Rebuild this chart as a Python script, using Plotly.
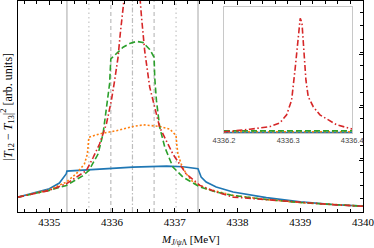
import plotly.graph_objects as go

# ---------------- data ----------------
blue_x = [4334.5, 4334.74, 4335.0, 4335.16, 4335.24, 4335.27, 4335.28, 4335.8, 4336.33, 4336.87,
          4337.13, 4337.37, 4337.385, 4337.42, 4337.5, 4337.66, 4337.93, 4338.46, 4339.0, 4339.52, 4340.0]
blue_y = [0.28, 0.357, 0.438, 0.545, 0.657, 0.72, 0.77, 0.813, 0.844, 0.863,
          0.851, 0.813, 0.751, 0.657, 0.563, 0.47, 0.376, 0.27, 0.19, 0.14, 0.11]

orange_x = [4334.5, 4335.0, 4335.27, 4335.43, 4335.56, 4335.606, 4335.63, 4335.8, 4336.07, 4336.34,
            4336.5, 4336.76, 4336.92, 4337.02, 4337.03, 4337.05, 4337.1, 4337.18, 4337.29, 4337.5,
            4337.93, 4338.46, 4339.0, 4339.52, 4340.0]
orange_y = [0.28, 0.419, 0.563, 0.72, 0.907, 1.09, 1.407, 1.47, 1.53, 1.61,
            1.64, 1.61, 1.56, 1.44, 1.28, 1.09, 0.907, 0.72, 0.563, 0.438,
            0.313, 0.235, 0.178, 0.14, 0.11]

green_x = [4334.5, 4335.0, 4335.27, 4335.53, 4335.63, 4335.776, 4335.856, 4335.91, 4335.96, 4335.98,
           4336.08, 4336.175, 4336.28, 4336.39, 4336.49, 4336.6, 4336.67, 4336.68, 4336.707, 4336.76,
           4336.84, 4336.97, 4337.13, 4337.4, 4337.66, 4337.93, 4338.46, 4339.0, 4339.52, 4340.0]
green_y = [0.28, 0.407, 0.50, 0.68, 0.78, 1.09, 1.47, 1.91, 2.41, 2.88,
           3.00, 3.10, 3.17, 3.21, 3.19, 3.06, 2.91, 2.53, 2.10, 1.59,
           1.22, 0.845, 0.657, 0.47, 0.376, 0.31, 0.235, 0.178, 0.14, 0.11]

red_x = [4334.5, 4335.0, 4335.27, 4335.59, 4335.70, 4335.80, 4335.91, 4335.989, 4336.04, 4336.095,
         4336.13, 4336.175, 4336.2, 4336.25, 4336.32, 4336.4, 4336.44, 4336.47, 4336.52, 4336.60,
         4336.76, 4336.97, 4337.18, 4337.40, 4337.66, 4337.93, 4338.46, 4339.0, 4339.52, 4340.0]
red_y = [0.28, 0.407, 0.53, 0.78, 1.03, 1.28, 1.66, 2.10, 2.47, 2.91,
         3.35, 3.78, 4.1, 6.0, 12.0, 6.0, 4.1, 3.66, 3.03, 2.35,
         1.59, 1.09, 0.72, 0.50, 0.376, 0.28, 0.23, 0.175, 0.138, 0.107]

# inset (zoom around the peak), own arbitrary units
inset_red_x = [4336.2, 4336.2198, 4336.2405, 4336.2717, 4336.2873, 4336.2977, 4336.3055, 4336.3107,
               4336.3154, 4336.3189, 4336.3216, 4336.3247, 4336.3278, 4336.3314, 4336.3392, 4336.3496,
               4336.3757, 4336.4]
inset_red_y = [0.55, 1.34, 2.5, 4.7, 7.7, 14, 25.8, 49.5, 77, 91, 87.4, 65.3, 41.6, 28.4, 20.5, 14, 6.1, 2.7]
inset_x_ends = [4336.2, 4336.4]
inset_blue_y = [0.0, 0.0]
inset_orange_y = [0.6, 0.6]
inset_green_y = [1.3, 1.3]

solid_lines = [4335.28, 4337.37]
dotted_lines = [4335.63, 4337.02]
dashed_lines = [4335.98, 4336.67]
center_line = [4336.325]
inset_center = [4336.3236]

inset_ticks = [4336.2, 4336.3, 4336.4]
inset_tick_text = ["4336.2", "4336.3", "4336.4"]
main_ticks = [4335, 4336, 4337, 4338, 4339, 4340]
main_tick_text = ["4335", "4336", "4337", "4338", "4339", "4340"]

BLUE, ORANGE, GREEN, RED = "#1f77b4", "#ff7f0e", "#2ca02c", "#d62728"
SERIF = "Liberation Serif, DejaVu Serif, serif"
DOT, DASH, DASHDOT = "2px,2px", "6px,3px", "6px,2.5px,1.5px,2.5px"

fig = go.Figure()

def line(x, y, color, dash, xa="x", ya="y", w=1.6):
    fig.add_trace(go.Scatter(x=x, y=y, mode="lines", xaxis=xa, yaxis=ya,
                             line=dict(color=color, dash=dash, width=w),
                             showlegend=False, hoverinfo="skip"))

line(blue_x, blue_y, BLUE, "solid")
line(orange_x, orange_y, ORANGE, DOT)
line(green_x, green_y, GREEN, DASH)
line(red_x, red_y, RED, DASHDOT)

line(inset_x_ends, inset_blue_y, BLUE, "solid", "x2", "y2")
line(inset_x_ends, inset_orange_y, ORANGE, DOT, "x2", "y2")
line(inset_x_ends, inset_green_y, GREEN, DASH, "x2", "y2")
line(inset_red_x, inset_red_y, RED, DASHDOT, "x2", "y2")

shapes = []
def vline(v, dash, color="#c4c4c4", width=1.2, xref="x"):
    shapes.append(dict(type="line", xref=xref, yref=("y2 domain" if xref == "x2" else "y domain"),
                       x0=v, x1=v, y0=0, y1=1,
                       line=dict(color=color, width=width, dash=dash), layer="below"))

for v in solid_lines:
    vline(v, "solid", "#c8c8c8", 1.6)
for v in dotted_lines:
    vline(v, "1.5px,3px", "#c4c4c4", 1.2)
for v in dashed_lines:
    vline(v, "4px,3px", "#bdbdbd", 1.2)
for v in center_line:
    vline(v, "5px,2px,1.5px,2px", "#bdbdbd", 1.2)
for v in inset_center:
    vline(v, "2px,2px", "#c8c8c8", 1.3, xref="x2")

fig.update_layout(
    width=374, height=248,
    margin=dict(l=18, r=11, t=1, b=36),
    paper_bgcolor="white", plot_bgcolor="white",
    shapes=shapes,
    xaxis=dict(range=[4334.5, 4340.0005], domain=[0, 1], tickvals=main_ticks, ticktext=main_tick_text,
               ticks="inside", ticklen=4, tickcolor="black", tickwidth=1,
               ticklabeloverflow="allow",
               minor=dict(dtick=0.2, ticks="inside", ticklen=2.5, tickcolor="black"),
               showline=True, linecolor="black", linewidth=1.2, mirror="ticks",
               showgrid=False, zeroline=False,
               tickfont=dict(family=SERIF, size=11, color="black")),
    yaxis=dict(range=[0, 3.97], domain=[0, 1], side="right", tick0=-0.04, dtick=1,
               ticks="inside", ticklen=4, tickcolor="black", showticklabels=False,
               minor=dict(dtick=0.25, ticks="inside", ticklen=2.5, tickcolor="black"),
               showline=True, linecolor="black", linewidth=1.2, mirror=True,
               showgrid=False, zeroline=False),
    xaxis2=dict(range=[4336.2, 4336.4001], domain=[0.597, 0.969], anchor="y2",
                tickvals=inset_ticks, ticktext=inset_tick_text, ticks="",
                ticklabeloverflow="allow",
                showline=True, linecolor="#c8c8c8", linewidth=1.3, mirror=True,
                showgrid=False, zeroline=False,
                tickfont=dict(family="Liberation Sans, Arial, sans-serif", size=7.5, color="#444444")),
    yaxis2=dict(range=[-0.5, 100], domain=[0.374, 0.972], anchor="x2",
                showticklabels=False, ticks="",
                showline=True, linecolor="#c8c8c8", linewidth=1.3, mirror=True,
                showgrid=False, zeroline=False),
    annotations=[
        dict(text="<i>M</i><sub><i>J/ψ</i>Λ</sub> [MeV]", xref="paper", yref="paper",
             x=0.5, y=-0.135, xanchor="center", yanchor="middle", showarrow=False,
             font=dict(family=SERIF, size=11, color="black")),
        dict(text="|<i>T</i><sub>12</sub> − <i>T</i><sub>13</sub>|<sup>2</sup> [arb. units]",
             xref="paper", yref="paper", x=-0.029, y=0.5, xanchor="center", yanchor="middle",
             textangle=-90, showarrow=False,
             font=dict(family=SERIF, size=12, color="black")),
    ],
)

# the page body has a default 8px margin; remove it so the figure sits at the window's corner
fig.write_html("out.html", config={"displayModeBar": False},
               post_script="document.body.style.margin='0';")
